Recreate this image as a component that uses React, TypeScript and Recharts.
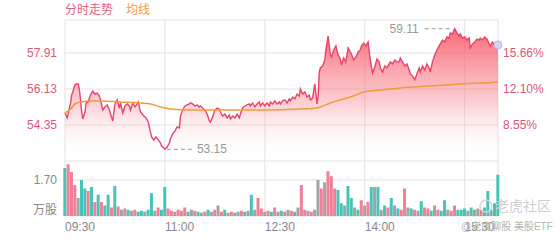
import React from "react";
import { ComposedChart, BarChart, Area, Line, Bar, Cell, XAxis, YAxis, CartesianGrid } from "recharts";

// previous close, used for the % axis on the right
const PRE_CLOSE = 50.07;

const timeTicks = [0, 90, 180, 270, 360, 390];
const timeLabels = ["09:30", "11:00", "12:30", "14:00", "15:30", ""];
const priceTicks = [54.35, 56.13, 57.91];
const volTicks = [0, 1.7];

// minutes after 09:30
const priceMinutes = [
  0, 2, 4, 5, 6, 7, 8, 9, 10, 12, 13, 14, 15, 16, 18, 19, 21, 22, 23, 25, 27, 29, 31, 32, 34, 36, 38, 40, 41, 43,
  45, 47, 49, 50, 52, 54, 56, 58, 59, 61, 63, 65, 66, 68, 69, 71, 73, 75, 77, 78, 80, 82, 84, 86, 87, 89, 90, 92,
  94, 95, 97, 99, 101, 103, 104, 106, 108, 110, 112, 113, 115, 117, 119, 121, 122, 124, 126, 128, 130, 131, 133,
  135, 137, 139, 140, 142, 144, 146, 148, 149, 151, 153, 155, 157, 158, 160, 162, 164, 166, 167, 169, 171, 173,
  175, 176, 178, 180, 182, 184, 185, 187, 189, 191, 193, 194, 196, 198, 200, 202, 203, 205, 207, 209, 211, 212,
  214, 216, 218, 220, 221, 223, 225, 227, 228, 229, 230, 232, 234, 235, 237, 239, 240, 242, 244, 246, 248, 249,
  251, 253, 255, 257, 258, 260, 262, 264, 266, 267, 269, 271, 273, 275, 277, 279, 281, 283, 284, 286, 288, 290,
  292, 293, 295, 297, 299, 301, 302, 304, 306, 308, 310, 311, 313, 315, 317, 319, 320, 322, 324, 326, 328, 329,
  331, 333, 335, 337, 338, 340, 342, 344, 346, 347, 349, 351, 353, 355, 356, 358, 360, 362, 364, 365, 367, 369,
  371, 373, 374, 376, 378, 380, 382, 383, 385, 387, 389, 390,
];

const prices = [
  54.94, 54.7, 55.19, 55.44, 55.83, 55.98, 56.18, 56.33, 56.38, 56.38, 56.08, 55.59, 54.99, 54.65, 54.99, 55.44,
  55.49, 55.68, 55.83, 56.03, 55.88, 55.93, 55.78, 55.59, 55.09, 55.24, 55.34, 55.09, 54.89, 54.55, 55.39, 55.59,
  55.19, 55.44, 54.94, 55.29, 55.39, 55.29, 55.09, 55.44, 55.24, 55.39, 55.49, 54.99, 54.94, 54.79, 54.7, 54.5,
  54.0, 53.76, 53.61, 53.76, 53.61, 53.46, 53.31, 53.21, 53.15, 53.26, 53.46, 53.66, 53.91, 54.05, 54.25, 54.2,
  54.79, 55.09, 55.29, 55.34, 55.39, 55.44, 55.39, 55.29, 55.34, 55.24, 55.29, 55.19, 55.09, 54.89, 54.55, 54.5,
  54.75, 55.09, 55.19, 55.14, 54.99, 54.79, 54.89, 54.7, 54.84, 54.65, 54.79, 54.7, 54.89, 54.7, 54.89, 55.19,
  55.29, 55.34, 55.39, 55.29, 55.44, 55.24, 55.39, 55.49, 55.29, 55.44, 55.29, 55.44, 55.29, 55.49, 55.39, 55.54,
  55.39, 55.49, 55.39, 55.54, 55.59, 55.44, 55.64, 55.54, 55.73, 55.64, 55.88, 55.78, 56.13, 55.88, 55.98, 55.73,
  55.83, 55.59, 55.68, 56.38, 55.39, 55.78, 56.97, 57.17, 57.27, 57.56, 58.06, 58.75, 57.81, 57.71, 58.06, 58.26,
  57.81, 57.61, 57.32, 57.66, 57.47, 58.16, 57.96, 57.86, 57.56, 57.71, 57.96, 58.06, 58.26, 58.4, 58.26, 58.45,
  57.56, 56.92, 57.22, 57.61, 57.47, 57.17, 56.97, 57.27, 57.17, 57.37, 57.47, 57.37, 57.56, 57.47, 57.47, 57.66,
  57.47, 57.27, 57.37, 57.07, 56.88, 56.78, 56.58, 56.88, 57.17, 56.97, 57.27, 57.07, 57.37, 57.17, 56.97, 57.47,
  57.81, 58.06, 58.26, 58.36, 58.55, 58.45, 58.7, 58.65, 58.9, 58.85, 59.11, 58.9, 58.75, 58.85, 58.65, 58.7,
  58.55, 58.65, 58.16, 58.36, 58.45, 58.6, 58.55, 58.65, 58.55, 58.7, 58.6, 58.36, 58.26, 58.45, 58.31, 58.31,
  58.31,
];

const avgMinutes = [0, 5, 9, 14, 23, 32, 50, 68, 77, 86, 95, 113, 140, 176, 212, 227, 230, 239, 248, 257, 269, 284, 302, 329, 356, 389, 390];
const avgPrices = [
  54.94, 55.14, 55.39, 55.49, 55.54, 55.54, 55.49, 55.44, 55.39, 55.24, 55.14, 55.09, 55.09, 55.09, 55.14, 55.19,
  55.24, 55.44, 55.59, 55.73, 55.98, 56.08, 56.18, 56.28, 56.38, 56.48, 56.49,
];

// volume (万股), one bar per 3 minutes; u = up, d = down, n = flat
const volumes = [
  2.27, 2.45, 2.08, 1.46, 0.85, 1.7, 1.3, 1.18, 1.37, 0.66, 1.0, 0.66, 0.5, 1.0, 0.4, 1.42, 0.45, 0.3, 0.35, 0.3,
  0.25, 0.3, 0.2, 0.25, 0.2, 0.3, 1.08, 0.25, 0.4, 0.3, 1.37, 0.35, 0.25, 0.2, 0.3, 0.25, 0.4, 0.2, 0.3, 0.25,
  0.2, 0.15, 0.2, 0.3, 0.2, 0.3, 0.5, 0.2, 0.3, 0.15, 0.2, 0.15, 0.2, 0.25, 0.2, 0.25, 1.0, 0.3, 0.85, 0.35,
  0.2, 0.25, 0.2, 0.4, 0.2, 0.25, 0.2, 0.3, 0.25, 0.2, 0.4, 1.46, 0.3, 0.25, 0.2, 0.3, 1.7, 1.3, 1.6, 2.12,
  1.88, 1.3, 1.23, 0.6, 0.5, 1.42, 0.85, 0.4, 0.3, 0.75, 0.5, 0.66, 1.37, 1.37, 1.37, 0.3, 0.5, 0.4, 0.85, 0.5,
  0.35, 0.3, 1.3, 0.4, 0.35, 0.3, 0.25, 0.7, 0.4, 0.35, 0.25, 0.5, 0.3, 0.25, 0.75, 0.3, 0.25, 0.5, 0.3, 0.3,
  0.35, 0.25, 0.4, 0.3, 0.35, 0.3, 0.4, 1.18, 0.3, 0.6, 1.95,
];
const volDirs = [
  "d", "u", "u", "u", "n", "d", "d", "u", "d", "u", "d", "u", "d", "d", "u", "d", "u", "n", "u", "d",
  "n", "u", "d", "d", "n", "d", "d", "n", "u", "d", "d", "u", "u", "n", "u", "u", "u", "d", "n", "u",
  "d", "n", "u", "d", "n", "u", "n", "u", "d", "n", "u", "d", "n", "u", "d", "n", "d", "n", "u", "u",
  "n", "u", "d", "u", "n", "d", "u", "n", "u", "d", "n", "u", "u", "n", "u", "n", "n", "u", "n", "u",
  "u", "u", "d", "d", "n", "d", "d", "n", "d", "u", "n", "u", "d", "n", "d", "n", "d", "u", "d", "n",
  "d", "u", "u", "n", "d", "u", "n", "d", "u", "u", "d", "n", "u", "d", "d", "n", "u", "u", "d", "d",
  "d", "n", "d", "n", "n", "u", "d", "d", "n", "d", "d",
];

const dirColor: Record<string, string> = { u: "#f27f95", d: "#45c4b8", n: "#a3a3a3" };

const avgByMinute = new Map(avgMinutes.map((m, i) => [m, avgPrices[i]]));
const priceData = priceMinutes.map((m, i) => ({ m, p: prices[i], a: avgByMinute.get(m) ?? null }));
const volData = volumes.map((v, i) => ({ m: i * 3, v, d: volDirs[i] }));

const maxIdx = prices.indexOf(Math.max(...prices));
const minIdx = prices.indexOf(Math.min(...prices));
const lastIdx = prices.length - 1;

const pct = (p: number) => (((p / PRE_CLOSE) - 1) * 100).toFixed(2) + "%";

const renderDot = (props: any) => {
  const { cx, cy, index } = props;
  if (index === maxIdx) {
    return (
      <g key="max">
        <line x1={cx - 30} y1={cy} x2={cx - 2} y2={cy} stroke="#999" strokeDasharray="4 3" />
        <text x={cx - 36} y={cy + 4} textAnchor="end" fill="#999" fontSize={12}>{prices[index].toFixed(2)}</text>
      </g>
    );
  }
  if (index === minIdx) {
    return (
      <g key="min">
        <line x1={cx + 2} y1={cy} x2={cx + 27} y2={cy} stroke="#999" strokeDasharray="4 3" />
        <text x={cx + 32} y={cy + 4} textAnchor="start" fill="#999" fontSize={12}>{prices[index].toFixed(2)}</text>
      </g>
    );
  }
  if (index === lastIdx) {
    return <circle key="last" cx={cx} cy={cy} r={4} fill="#dcd0f2" stroke="#c4b3e6" />;
  }
  return <g key={"d" + index} />;
};

const TimeTick = (props: any) => {
  const { x, y, index } = props;
  return (
    <text x={x} y={y} dy="0.71em" textAnchor="start" fill="#888" fontSize={12}>
      {timeLabels[index]}
    </text>
  );
};

const PriceTick = (props: any) => {
  const { x, y, payload, side } = props;
  return (
    <text x={x} y={y} dy={4} textAnchor={side === "right" ? "start" : "end"} fill="#d9587a" fontSize={12}>
      {side === "right" ? pct(payload.value) : payload.value.toFixed(2)}
    </text>
  );
};

const VolTick = (props: any) => {
  const { x, y, payload } = props;
  const zero = payload.value === 0;
  return (
    <text x={x} y={y} dy={zero ? -2 : 4} textAnchor="end" fill="#888" fontSize={12}>
      {zero ? "万股" : payload.value.toFixed(2)}
    </text>
  );
};

export default function App() {
  return (
    <div
      style={{
        position: "fixed",
        left: 0,
        top: 0,
        width: 560,
        height: 240,
        background: "#fff",
        fontFamily: '"Liberation Sans", "Noto Sans CJK SC", sans-serif',
      }}
    >
      <div style={{ position: "absolute", left: 65, top: 2, fontSize: 12, lineHeight: "16px", whiteSpace: "nowrap" }}>
        <span style={{ color: "#e0607e" }}>分时走势</span>
        <span style={{ color: "#f09a36", marginLeft: 13 }}>均线</span>
      </div>

      <div style={{ position: "absolute", left: 0, top: 0 }}>
        <ComposedChart width={560} height={161} data={priceData} margin={{ top: 20, right: 0, bottom: 0, left: 0 }}>
          <defs>
            <linearGradient id="priceFill" x1="0" y1="0" x2="0" y2="1">
              <stop offset="0%" stopColor="#f6505f" stopOpacity={0.85} />
              <stop offset="55%" stopColor="#f7707c" stopOpacity={0.35} />
              <stop offset="100%" stopColor="#ffffff" stopOpacity={0} />
            </linearGradient>
          </defs>
          <CartesianGrid stroke="#e2e2e2" />
          <XAxis type="number" dataKey="m" domain={[0, 390]} ticks={timeTicks} hide height={0} />
          <YAxis
            domain={[52.57, 59.54]}
            ticks={priceTicks}
            width={65}
            tickSize={0}
            tickMargin={8}
            axisLine={false}
            tickLine={false}
            allowDataOverflow
            tick={<PriceTick side="left" />}
          />
          <YAxis
            yAxisId="right"
            orientation="right"
            domain={[52.57, 59.54]}
            ticks={priceTicks}
            width={62}
            tickSize={0}
            tickMargin={5}
            axisLine={false}
            tickLine={false}
            allowDataOverflow
            tick={<PriceTick side="right" />}
          />
          <Area
            type="linear"
            dataKey="p"
            stroke="#e8436b"
            strokeWidth={1.4}
            fill="url(#priceFill)"
            fillOpacity={1}
            dot={renderDot}
            activeDot={false}
            isAnimationActive={false}
          />
          <Line
            yAxisId="right"
            type="monotone"
            dataKey="a"
            stroke="#f39a3a"
            strokeWidth={1.5}
            dot={false}
            activeDot={false}
            connectNulls
            isAnimationActive={false}
          />
        </ComposedChart>
      </div>

      <div style={{ position: "absolute", left: 0, top: 161 }}>
        <BarChart width={560} height={79} data={volData} margin={{ top: 0, right: 62, bottom: 0, left: 0 }}>
          <CartesianGrid stroke="#e2e2e2" />
          <XAxis
            type="number"
            dataKey="m"
            domain={[0, 390]}
            ticks={timeTicks}
            height={24}
            tickSize={0}
            tickMargin={6}
            axisLine={false}
            tickLine={false}
            tick={<TimeTick />}
          />
          <YAxis
            domain={[0, 2.6]}
            ticks={volTicks}
            width={65}
            tickSize={0}
            tickMargin={8}
            axisLine={false}
            tickLine={false}
            allowDataOverflow
            tick={<VolTick />}
          />
          <Bar dataKey="v" barSize={3} isAnimationActive={false}>
            {volData.map((d, i) => (
              <Cell key={i} fill={dirColor[d.d]} />
            ))}
          </Bar>
        </BarChart>
      </div>

      <svg style={{ position: "absolute", left: 478, top: 198 }} width={16} height={16}>
        <circle cx={8} cy={8} r={6} fill="none" stroke="#d6d6d6" strokeWidth={1.5} />
      </svg>
      <div
        style={{
          position: "absolute",
          left: 495,
          top: 197,
          fontSize: 14,
          color: "#cfcfcf",
          lineHeight: "18px",
          whiteSpace: "nowrap",
        }}
      >
        老虎社区
      </div>
      <div
        style={{
          position: "absolute",
          left: 461,
          top: 220,
          fontSize: 10,
          color: "#b5b5b5",
          lineHeight: "13px",
          whiteSpace: "nowrap",
        }}
      >
        @老虎聊股 美股ETF
      </div>
    </div>
  );
}
